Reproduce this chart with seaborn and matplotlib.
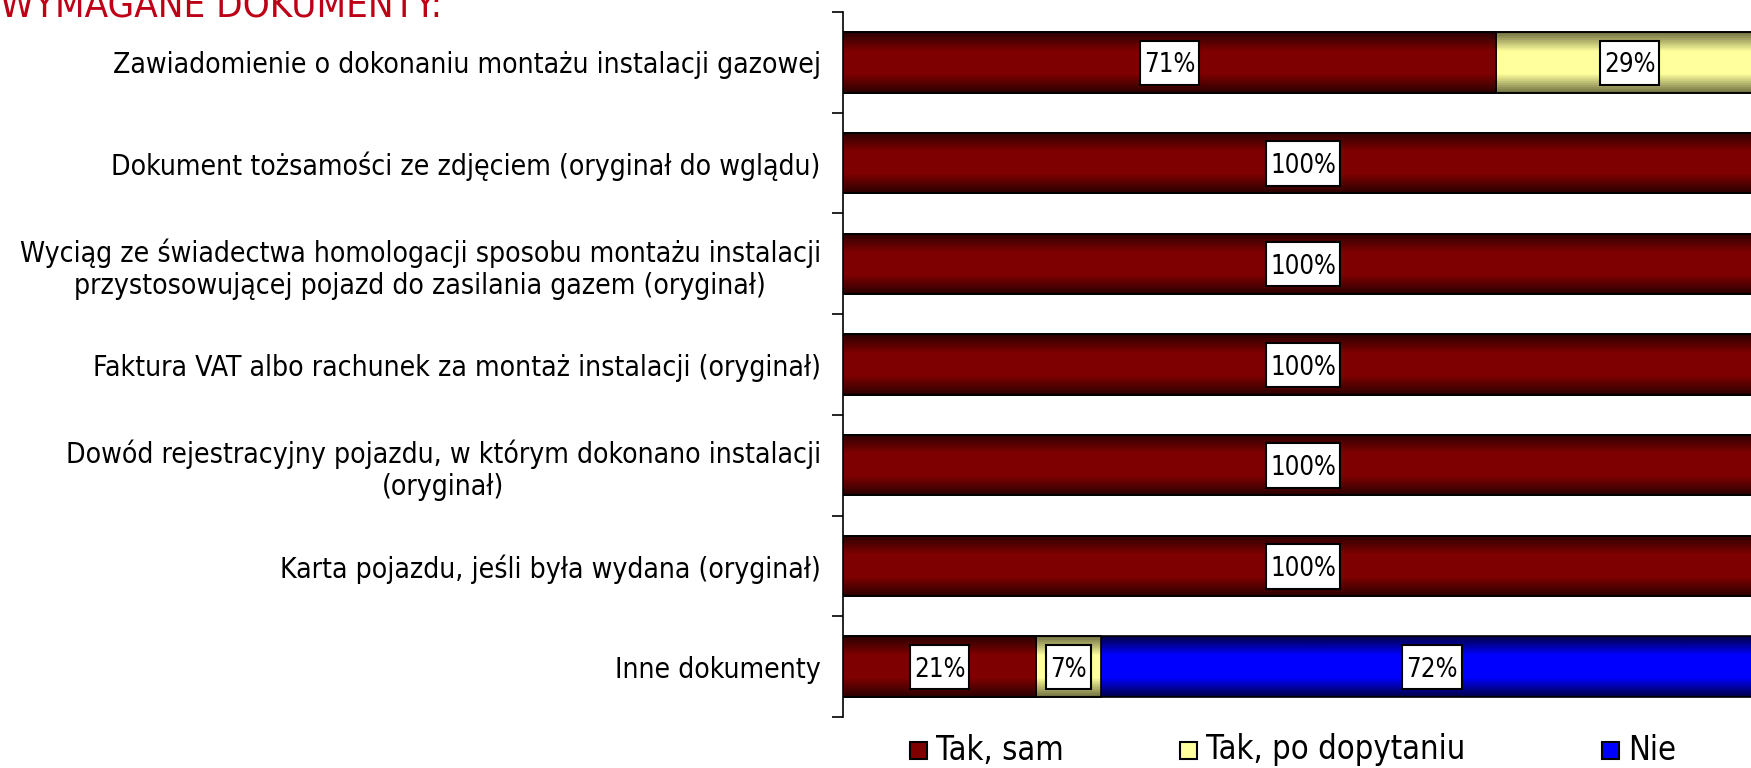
import numpy as np
import pandas as pd
import matplotlib
matplotlib.use("Agg")
import matplotlib.pyplot as plt
from matplotlib.patches import Rectangle
from matplotlib.path import Path
import seaborn as sns

kategorie = [
    "Zawiadomienie o dokonaniu montażu instalacji gazowej",
    "Dokument tożsamości ze zdjęciem (oryginał do wglądu)",
    "Wyciąg ze świadectwa homologacji sposobu montażu instalacji\nprzystosowującej pojazd do zasilania gazem (oryginał)",
    "Faktura VAT albo rachunek za montaż instalacji (oryginał)",
    "Dowód rejestracyjny pojazdu, w którym dokonano instalacji\n(oryginał)",
    "Karta pojazdu, jeśli była wydana (oryginał)",
    "Inne dokumenty",
]
tak_sam = [71, 100, 100, 100, 100, 100, 21]
tak_dopytanie = [29, 0, 0, 0, 0, 0, 7]
nie = [0, 0, 0, 0, 0, 0, 72]
serie = ["Tak, sam", "Tak, po dopytaniu", "Nie"]
tytul = "WYMAGANE DOKUMENTY:"

# kolory: (brzeg, srodek) gradientu
kolory = {
    "Tak, sam": ((0.18, 0.0, 0.0), (0.50, 0.0, 0.0)),
    "Tak, po dopytaniu": ((0.46, 0.46, 0.27), (1.0, 1.0, 0.62)),
    "Nie": ((0.0, 0.0, 0.30), (0.0, 0.0, 1.0)),
}

sns.set_style("white")
plt.rcParams["font.family"] = ["DejaVu Sans"]
plt.rcParams["font.stretch"] = "condensed"
plt.rcParams["text.color"] = "black"
plt.rcParams["ytick.labelcolor"] = "black"

df = pd.DataFrame({"kat": kategorie, "sam": tak_sam, "dop": tak_dopytanie, "nie": nie})
df["c1"] = df["sam"]
df["c2"] = df["sam"] + df["dop"]
df["c3"] = df["sam"] + df["dop"] + df["nie"]

fig = plt.figure(figsize=(17.51, 7.68), dpi=100)
ax = fig.add_axes([843 / 1751, 1 - 717 / 768, 920 / 1751, 705 / 768])


def gradient(edge, mid, n=60):
    t = np.linspace(0, 1, n)
    d = 1 - np.abs(2 * t - 1)
    w = np.clip(d * 1.6, 0, 1)
    w = np.round(w * 9) / 9
    edge = np.array(edge)
    mid = np.array(mid)
    return (edge + (mid - edge) * w[:, None])[:, None, :]


def ramka(x0, y0, width, height, mutation_size):
    # ramka etykiety: mniej miejsca w poziomie, wiecej w pionie (wiecej u gory)
    px = 0.16 * mutation_size
    x0, x1 = x0 - px, x0 + width + px
    y1 = y0 + height + 0.46 * mutation_size
    y0 = y0 - 0.26 * mutation_size
    return Path([(x0, y0), (x1, y0), (x1, y1), (x0, y1), (x0, y0)],
                [Path.MOVETO, Path.LINETO, Path.LINETO, Path.LINETO, Path.CLOSEPOLY])


warstwy = [("c3", "Nie"), ("c2", "Tak, po dopytaniu"), ("c1", "Tak, sam")]
for kol, nazwa in warstwy:
    n0 = len(ax.patches)
    sns.barplot(data=df, x=kol, y="kat", orient="h", color=kolory[nazwa][1],
                width=0.6, edgecolor="black", linewidth=1.2, ax=ax)
    for p in ax.patches[n0:]:
        x0, y0 = p.get_x(), p.get_y()
        w, h = p.get_width(), p.get_height()
        if w <= 0:
            continue
        p.set_facecolor("none")
        p.set_zorder(3)
        im = ax.imshow(gradient(*kolory[nazwa]), extent=[x0, x0 + w, y0 + h, y0],
                       aspect="auto", interpolation="bilinear", zorder=2)
        im.set_clip_path(p)

ax.set_xlim(0, 100)
ax.set_ylim(6.5, -0.5)
ax.set_xlabel("")
ax.set_ylabel("")
ax.set_xticks([])
sns.despine(ax=ax, top=True, right=True, bottom=True, left=False)
ax.spines["left"].set_color("black")
ax.spines["left"].set_linewidth(1.2)
ax.set_yticks(np.arange(len(kategorie)))
ax.set_yticklabels(kategorie, fontsize=20.3, multialignment="center", color="black")
ax.set_yticks(np.arange(-0.5, len(kategorie)), minor=True)
ax.tick_params(axis="y", which="major", left=True, length=0, pad=16)
ax.tick_params(axis="y", which="minor", left=True, length=8, width=1.2, direction="out", color="black")

# etykiety danych
for i in range(len(kategorie)):
    start = 0
    for val in (tak_sam[i], tak_dopytanie[i], nie[i]):
        if val > 0:
            ax.text(start + val / 2, i + 0.03, f"{val}%", ha="center", va="center", fontsize=18.5,
                    zorder=5, bbox=dict(boxstyle=ramka, fc="white", ec="black", lw=1.5))
        start += val

fig.text(0.0, 1 - 17 / 768, tytul, color="#BE0016", fontsize=27.5, ha="left", va="baseline")

# legenda
leg_x = [910, 1180, 1602]
for nazwa, lx in zip(serie, leg_x):
    fig.patches.append(Rectangle((lx / 1751, 1 - 759 / 768), 17 / 1751, 17 / 768,
                                 transform=fig.transFigure, facecolor=kolory[nazwa][1],
                                 edgecolor="black", linewidth=1.5))
    fig.text((lx + 26) / 1751, 1 - 750 / 768, nazwa, fontsize=23.5, ha="left", va="center")

fig.savefig("out.png", dpi=100)
